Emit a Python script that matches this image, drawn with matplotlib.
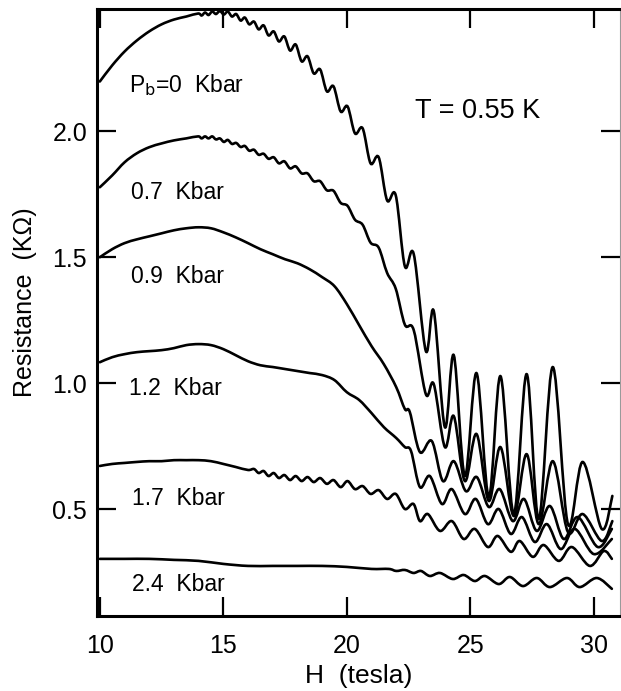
import matplotlib
matplotlib.use("Agg")
import matplotlib.pyplot as plt
from matplotlib.path import Path
from matplotlib.patches import PathPatch

plt.rcParams['font.family'] = ['Liberation Sans', 'DejaVu Sans']

# ---------------- data ----------------
H_0kbar = [10.0, 10.5, 11.0, 11.5, 12.0, 12.5, 13.0, 13.5,
           13.98, 14.12, 14.26, 14.40, 14.55, 14.70, 14.86, 15.02, 15.18, 15.35,
           15.52, 15.70, 15.87, 16.05, 16.24, 16.43, 16.63, 16.83, 17.04, 17.25,
           17.47, 17.70, 17.93, 18.17, 18.41, 18.66, 18.92, 19.19, 19.46, 19.75,
           20.03, 20.33, 20.64, 20.96, 21.29, 21.63, 21.98, 22.35, 22.71, 23.20,
           23.52, 23.97, 24.33, 24.78, 25.25, 25.75, 26.22, 26.76, 27.28, 27.77,
           28.34, 28.95, 29.55, 30.32, 30.75]
R_0kbar = [2.198, 2.262, 2.317, 2.361, 2.397, 2.425, 2.444, 2.456,
           2.468, 2.460, 2.472, 2.462, 2.476, 2.466, 2.478, 2.464, 2.476, 2.456,
           2.466, 2.440, 2.452, 2.425, 2.436, 2.405, 2.421, 2.381, 2.397, 2.357,
           2.377, 2.321, 2.345, 2.278, 2.298, 2.230, 2.246, 2.159, 2.179, 2.079,
           2.099, 1.992, 2.012, 1.873, 1.897, 1.726, 1.746, 1.464, 1.512, 1.127,
           1.286, 0.825, 1.111, 0.631, 1.040, 0.548, 1.028, 0.480, 1.036, 0.460,
           1.064, 0.441, 0.687, 0.421, 0.552]

H_07kbar = list(H_0kbar)
R_07kbar = [1.778, 1.825, 1.877, 1.913, 1.937, 1.952, 1.964, 1.972,
            1.980, 1.972, 1.980, 1.972, 1.980, 1.968, 1.972, 1.958, 1.966, 1.950,
            1.954, 1.938, 1.942, 1.923, 1.927, 1.907, 1.911, 1.891, 1.897, 1.873,
            1.881, 1.853, 1.861, 1.833, 1.833, 1.802, 1.802, 1.766, 1.764, 1.716,
            1.704, 1.649, 1.629, 1.558, 1.538, 1.438, 1.375, 1.232, 1.210, 0.956,
            0.996, 0.746, 0.869, 0.611, 0.798, 0.532, 0.746, 0.472, 0.718, 0.440,
            0.690, 0.409, 0.480, 0.373, 0.452]

H_09kbar = [10.0, 10.5, 11.0, 11.5, 12.0, 12.5, 13.0, 13.5, 14.0, 14.5,
            15.0, 15.5, 16.0, 16.5, 17.0, 17.5, 18.0, 18.5, 19.0, 19.5,
            20.0, 20.5, 21.0, 21.5, 22.0,
            22.35, 22.55, 22.96, 23.44, 23.89, 24.33, 24.82, 25.26, 25.75, 26.19,
            26.72, 27.17, 27.69, 28.22, 28.78, 29.35, 30.16, 30.73]
R_09kbar = [1.500, 1.532, 1.556, 1.571, 1.583, 1.595, 1.607, 1.615, 1.619, 1.615,
            1.599, 1.579, 1.556, 1.532, 1.512, 1.492, 1.476, 1.452, 1.421, 1.385,
            1.314, 1.230, 1.147, 1.075, 0.984,
            0.897, 0.885, 0.726, 0.770, 0.611, 0.690, 0.571, 0.627, 0.508, 0.579,
            0.452, 0.540, 0.413, 0.512, 0.381, 0.468, 0.349, 0.421]

H_12kbar = [10.0, 10.5, 11.0, 11.5, 12.0, 12.5, 13.0, 13.5, 14.0, 14.5,
            15.0, 15.5, 16.0, 16.5, 17.0, 17.5, 18.0, 18.5, 19.0, 19.5,
            20.0, 20.5, 21.0, 21.5, 22.0,
            22.35, 22.6, 22.96, 23.36, 23.85, 24.25, 24.78, 25.22, 25.71, 26.15,
            26.64, 27.09, 27.61, 28.10, 28.66, 29.23, 30.0, 30.73]
R_12kbar = [1.083, 1.103, 1.115, 1.123, 1.127, 1.131, 1.139, 1.151, 1.155, 1.151,
            1.135, 1.111, 1.087, 1.071, 1.064, 1.056, 1.048, 1.040, 1.032, 1.012,
            0.964, 0.933, 0.881, 0.825, 0.782,
            0.746, 0.730, 0.587, 0.631, 0.520, 0.579, 0.480, 0.540, 0.440, 0.500,
            0.401, 0.468, 0.369, 0.440, 0.341, 0.421, 0.321, 0.381]

H_17kbar = [10.0, 10.5, 11.0, 11.5, 12.0, 12.5, 13.0, 13.5, 14.0, 14.5, 15.0, 15.5, 16.0,
            16.24, 16.43, 16.63, 16.83, 17.04, 17.25, 17.47, 17.70, 17.93, 18.17,
            18.41, 18.66, 18.92, 19.19, 19.46, 19.75, 20.03, 20.33, 20.64, 20.96,
            21.29, 21.63, 21.98,
            22.35, 22.70, 22.96, 23.28, 23.77, 24.25, 24.73, 25.18, 25.71, 26.11,
            26.64, 27.00, 27.53, 27.97, 28.58, 29.11, 29.84, 30.40, 30.73]
R_17kbar = [0.671, 0.679, 0.683, 0.687, 0.690, 0.690, 0.694, 0.694, 0.694, 0.690, 0.679, 0.667, 0.655,
            0.659, 0.643, 0.651, 0.631, 0.643, 0.623, 0.635, 0.615, 0.631, 0.611,
            0.627, 0.607, 0.623, 0.600, 0.615, 0.587, 0.611, 0.579, 0.591, 0.560,
            0.575, 0.540, 0.560,
            0.500, 0.520, 0.452, 0.480, 0.413, 0.452, 0.381, 0.421, 0.349, 0.393,
            0.330, 0.373, 0.310, 0.357, 0.294, 0.349, 0.274, 0.333, 0.302]

H_24kbar = [10.0, 11.0, 12.0, 13.0, 14.0, 15.0, 16.0, 17.0, 18.0, 19.0,
            20.0, 21.0, 21.7, 22.0, 22.35, 22.7, 23.0, 23.36, 23.77, 24.29,
            24.73, 25.18, 25.59, 26.15, 26.60, 27.13, 27.69, 28.22, 28.91, 29.43,
            30.12, 30.73]
R_24kbar = [0.302, 0.302, 0.302, 0.298, 0.294, 0.282, 0.274, 0.274, 0.274, 0.274,
            0.270, 0.262, 0.262, 0.254, 0.258, 0.246, 0.254, 0.234, 0.246, 0.222,
            0.238, 0.214, 0.234, 0.202, 0.230, 0.194, 0.226, 0.190, 0.226, 0.190,
            0.226, 0.183]

curve_labels = [r"P$_\mathrm{b}$=0  Kbar", "0.7  Kbar", "0.9  Kbar",
                "1.2  Kbar", "1.7  Kbar", "2.4  Kbar"]
label_H = [11.2, 11.25, 11.25, 11.2, 11.3, 11.3]
label_R = [2.182, 1.758, 1.425, 0.980, 0.540, 0.202]

x_ticks = [10, 15, 20, 25, 30]
x_ticklabels = ["10", "15", "20", "25", "30"]
y_ticks = [0.5, 1.0, 1.5, 2.0]
y_ticklabels = ["0.5", "1.0", "1.5", "2.0"]


def smooth_trace(h, r):
    """Smooth pen-drawn trace through the read points (Catmull-Rom as Bezier)."""
    pts = list(zip(h, r))
    n = len(pts)
    verts = [pts[0]]
    codes = [Path.MOVETO]
    for i in range(n - 1):
        p0 = pts[i - 1] if i > 0 else pts[i]
        p1 = pts[i]
        p2 = pts[i + 1]
        p3 = pts[i + 2] if i + 2 < n else pts[i + 1]
        c1 = (p1[0] + (p2[0] - p0[0]) / 6.0, p1[1] + (p2[1] - p0[1]) / 6.0)
        c2 = (p2[0] - (p3[0] - p1[0]) / 6.0, p2[1] - (p3[1] - p1[1]) / 6.0)
        verts += [c1, c2, p2]
        codes += [Path.CURVE4] * 3
    return Path(verts, codes)


# ---------------- figure ----------------
fig = plt.figure(figsize=(6.21, 6.91), dpi=100)
ax = fig.add_axes([0.156, 0.1085, 0.842, 0.8785])

series = [(H_0kbar, R_0kbar), (H_07kbar, R_07kbar), (H_09kbar, R_09kbar),
          (H_12kbar, R_12kbar), (H_17kbar, R_17kbar), (H_24kbar, R_24kbar)]
for h, r in series:
    patch = PathPatch(smooth_trace(h, r), fill=False, edgecolor='black', lw=1.9,
                      capstyle='round', joinstyle='round', transform=ax.transData)
    ax.add_patch(patch)

for txt, lx, ly in zip(curve_labels, label_H, label_R):
    ax.text(lx, ly, txt, fontsize=16.5, ha='left', va='center', color='black')

ax.text(22.75, 2.079, "T = 0.55 K", fontsize=19.5, ha='left', va='center', color='black')

ax.set_xlim(9.88, 31.05)
ax.set_ylim(0.075, 2.486)
ax.set_xticks(x_ticks)
ax.set_xticklabels(x_ticklabels)
ax.set_yticks(y_ticks)
ax.set_yticklabels(y_ticklabels)

ax.tick_params(axis='both', which='major', direction='in', length=14, width=1.6,
               top=True, right=True, labelsize=18, colors='black')
ax.tick_params(axis='x', pad=13)
ax.tick_params(axis='y', pad=7)

for side in ['left', 'bottom', 'top']:
    ax.spines[side].set_linewidth(2.2)
    ax.spines[side].set_color('black')
ax.spines['right'].set_linewidth(0.8)
ax.spines['right'].set_color('#9a9a9a')

ax.set_xlabel("H  (tesla)", fontsize=19, labelpad=4)
fig.text(0.040, 0.563, "Resistance  (KΩ)", fontsize=18, rotation=90,
         ha='center', va='center')

fig.savefig("out.png", dpi=100)
